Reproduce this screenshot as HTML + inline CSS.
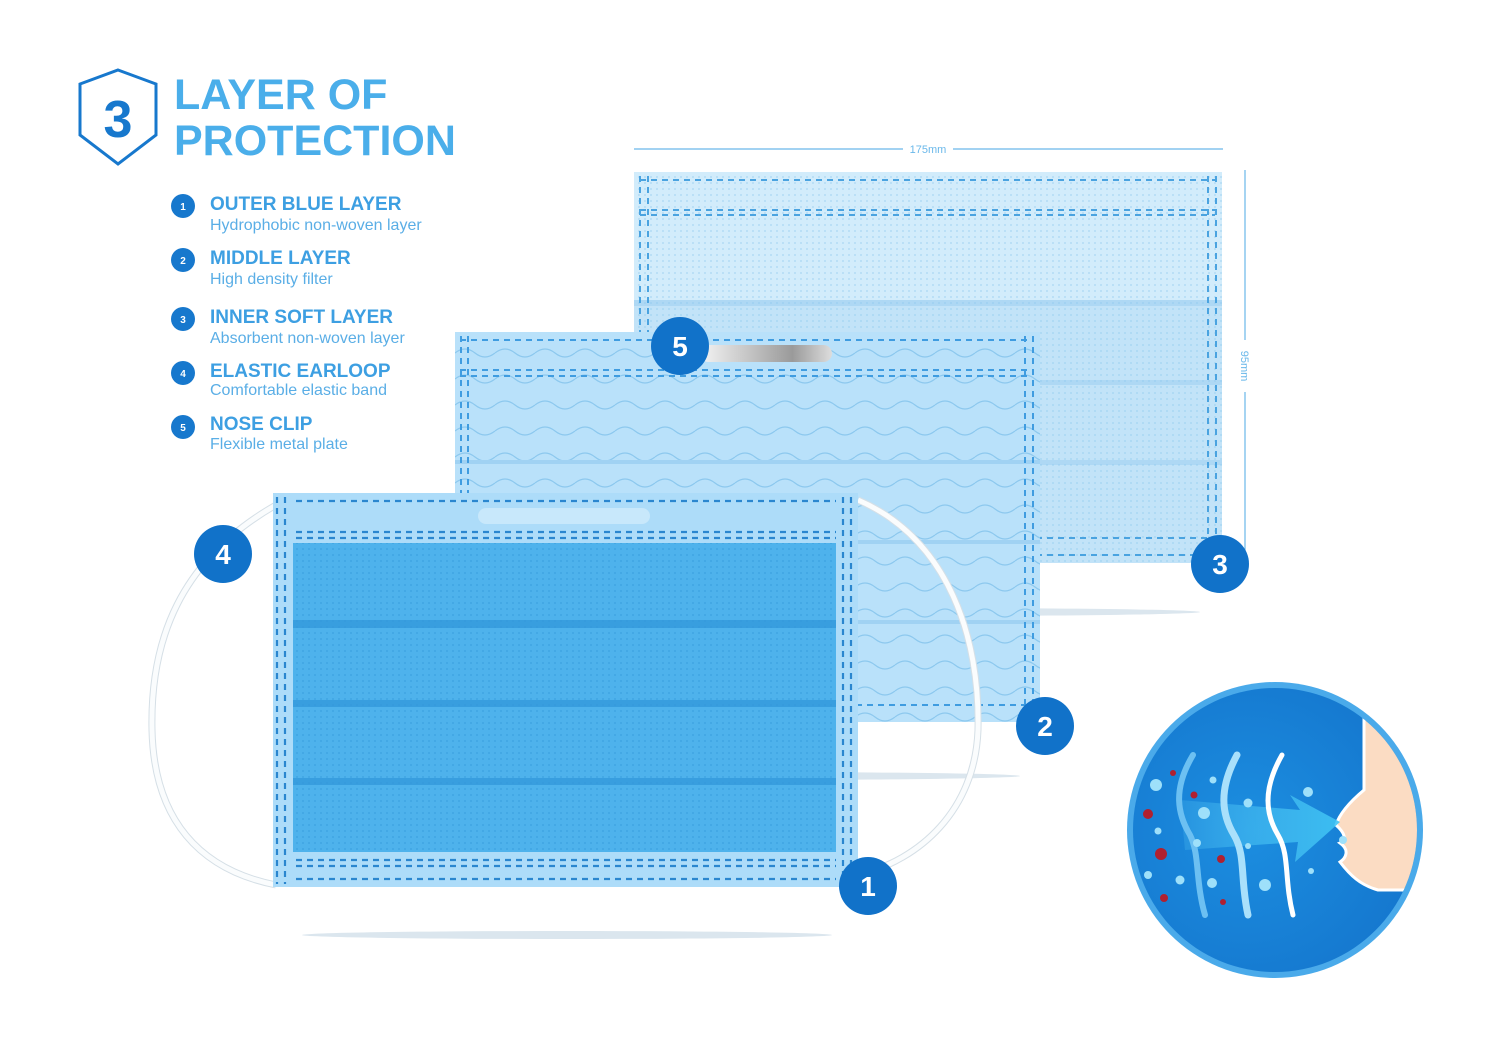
<!DOCTYPE html>
<html><head><meta charset="utf-8"><style>
html,body{margin:0;padding:0;background:#fff}
svg{display:block}
text{font-family:"Liberation Sans",sans-serif}
</style></head><body>
<svg width="1500" height="1052" viewBox="0 0 1500 1052" xmlns="http://www.w3.org/2000/svg">
<defs>
<pattern id="dots" width="6" height="6" patternUnits="userSpaceOnUse"><circle cx="3" cy="3" r="0.9" fill="#8cc8ee" opacity="0.6"/></pattern>
<pattern id="dots2" width="6" height="6" patternUnits="userSpaceOnUse"><circle cx="3" cy="3" r="1" fill="#2f96d8" opacity="0.5"/></pattern>
<pattern id="wave" width="40" height="26" patternUnits="userSpaceOnUse" x="455" y="340"><path d="M0 13 Q10 5 20 13 T40 13" fill="none" stroke="#8cc8ee" stroke-width="1.2"/></pattern>
<radialGradient id="circ" cx="0.4" cy="0.5" r="0.6"><stop offset="0" stop-color="#1c8ee0"/><stop offset="1" stop-color="#1578cf"/></radialGradient>
<linearGradient id="clip" x1="0" x2="1"><stop offset="0" stop-color="#f4f4f4"/><stop offset="0.7" stop-color="#9a9a9a"/><stop offset="1" stop-color="#ddd"/></linearGradient>
<linearGradient id="arr" x1="0" x2="1"><stop offset="0" stop-color="#5fd0f8" stop-opacity="0.2"/><stop offset="1" stop-color="#3fc4f4"/></linearGradient>
<clipPath id="mid"><rect x="455" y="332" width="585" height="390"/></clipPath>
</defs>

<path d="M118 70 L156 84 L156 135 L118 164 L80 135 L80 84 Z" fill="none" stroke="#1778cd" stroke-width="3"/>
<text x="118" y="137" font-size="52" font-weight="bold" fill="#1778cd" text-anchor="middle">3</text>
<text x="174" y="109" font-size="43" font-weight="bold" fill="#4aaeea">LAYER OF</text>
<text x="174" y="155" font-size="43" font-weight="bold" fill="#4aaeea">PROTECTION</text>

<g font-size="10" font-weight="bold" fill="#fff" text-anchor="middle">
<circle cx="183" cy="206" r="12" fill="#1778cd"/><text x="183" y="210">1</text>
<circle cx="183" cy="260" r="12" fill="#1778cd"/><text x="183" y="264">2</text>
<circle cx="183" cy="319" r="12" fill="#1778cd"/><text x="183" y="323">3</text>
<circle cx="183" cy="373" r="12" fill="#1778cd"/><text x="183" y="377">4</text>
<circle cx="183" cy="427" r="12" fill="#1778cd"/><text x="183" y="431">5</text>
</g>
<g font-size="19" font-weight="bold" fill="#3d9fe2">
<text x="210" y="210">OUTER BLUE LAYER</text>
<text x="210" y="264">MIDDLE LAYER</text>
<text x="210" y="323">INNER SOFT LAYER</text>
<text x="210" y="377">ELASTIC EARLOOP</text>
<text x="210" y="430">NOSE CLIP</text>
</g>
<g font-size="16" fill="#5aaee6">
<text x="210" y="230">Hydrophobic non-woven layer</text>
<text x="210" y="284">High density filter</text>
<text x="210" y="343">Absorbent non-woven layer</text>
<text x="210" y="395">Comfortable elastic band</text>
<text x="210" y="449">Flexible metal plate</text>
</g>

<line x1="634" y1="149" x2="903" y2="149" stroke="#6ab8ea" stroke-width="1.2"/>
<line x1="953" y1="149" x2="1223" y2="149" stroke="#6ab8ea" stroke-width="1.2"/>
<text x="928" y="153" font-size="11" fill="#6ab8ea" text-anchor="middle">175mm</text>
<line x1="1245" y1="170" x2="1245" y2="340" stroke="#6ab8ea" stroke-width="1.2"/>
<line x1="1245" y1="392" x2="1245" y2="563" stroke="#6ab8ea" stroke-width="1.2"/>
<text x="1241" y="366" font-size="11" fill="#6ab8ea" text-anchor="middle" transform="rotate(90 1241 366)">95mm</text>

<ellipse cx="920" cy="612" rx="280" ry="4" fill="#dbe6ee"/>
<ellipse cx="740" cy="776" rx="280" ry="4" fill="#dbe6ee"/>
<ellipse cx="567" cy="935" rx="265" ry="4" fill="#dbe6ee"/>

<rect x="634" y="172" width="588" height="391" fill="#d2ecfb"/>
<rect x="634" y="300" width="588" height="263" fill="#c2e3f8"/>
<rect x="634" y="300" width="588" height="6" fill="#aed8f4"/>
<rect x="634" y="380" width="588" height="5" fill="#aed8f4"/>
<rect x="634" y="460" width="588" height="5" fill="#aed8f4"/>
<rect x="634" y="172" width="588" height="391" fill="url(#dots)"/>
<g stroke="#4aa3e0" stroke-width="2" stroke-dasharray="6 5" fill="none">
<line x1="640" y1="180" x2="1215" y2="180"/>
<line x1="640" y1="210" x2="1215" y2="210"/>
<line x1="640" y1="215" x2="1215" y2="215"/>
<line x1="640" y1="538" x2="1215" y2="538"/>
<line x1="640" y1="555" x2="1215" y2="555"/>
<line x1="640" y1="176" x2="640" y2="560"/>
<line x1="648" y1="176" x2="648" y2="560"/>
<line x1="1208" y1="176" x2="1208" y2="560"/>
<line x1="1216" y1="176" x2="1216" y2="560"/>
</g>

<g clip-path="url(#mid)">
<rect x="455" y="332" width="585" height="390" fill="#b9e1fa"/>
<rect x="455" y="332" width="585" height="390" fill="url(#wave)"/>
<rect x="455" y="460" width="585" height="4" fill="#a0d2f3"/>
<rect x="455" y="540" width="585" height="4" fill="#a0d2f3"/>
<rect x="455" y="620" width="585" height="4" fill="#a0d2f3"/>
</g>
<g stroke="#3f9ce0" stroke-width="2" stroke-dasharray="6 5" fill="none">
<line x1="460" y1="340" x2="1032" y2="340"/>
<line x1="460" y1="370" x2="1032" y2="370"/>
<line x1="460" y1="376" x2="1032" y2="376"/>
<line x1="460" y1="705" x2="1032" y2="705"/>
<line x1="461" y1="336" x2="461" y2="718"/>
<line x1="468" y1="336" x2="468" y2="718"/>
<line x1="1025" y1="336" x2="1025" y2="718"/>
<line x1="1033" y1="336" x2="1033" y2="718"/>
</g>
<rect x="700" y="345" width="132" height="17" rx="8.5" fill="url(#clip)"/>

<g fill="none">
<path d="M276 505 C180 560 150 640 152 730 C154 820 200 870 276 885" stroke="#d5dfe6" stroke-width="7"/>
<path d="M276 505 C180 560 150 640 152 730 C154 820 200 870 276 885" stroke="#fafcfd" stroke-width="5"/>
<path d="M858 500 C950 540 980 640 978 730 C975 810 920 860 858 875" stroke="#d5dfe6" stroke-width="7"/>
<path d="M858 500 C950 540 980 640 978 730 C975 810 920 860 858 875" stroke="#fafcfd" stroke-width="5"/>
</g>

<rect x="273" y="493" width="585" height="394" fill="#addcf9"/>
<rect x="478" y="508" width="172" height="16" rx="8" fill="#c8e8fb"/>
<rect x="293" y="543" width="543" height="309" fill="#4eb2ec"/>
<rect x="293" y="620" width="543" height="8" fill="#2f96da" opacity="0.7"/>
<rect x="293" y="700" width="543" height="7" fill="#2f96da" opacity="0.7"/>
<rect x="293" y="778" width="543" height="7" fill="#2f96da" opacity="0.7"/>
<rect x="293" y="543" width="543" height="309" fill="url(#dots2)"/>
<g stroke="#2a86cf" stroke-width="2.2" stroke-dasharray="6 5" fill="none">
<line x1="296" y1="501" x2="836" y2="501"/>
<line x1="296" y1="532" x2="836" y2="532"/>
<line x1="296" y1="538" x2="836" y2="538"/>
<line x1="296" y1="860" x2="836" y2="860"/>
<line x1="296" y1="866" x2="836" y2="866"/>
<line x1="296" y1="879" x2="836" y2="879"/>
<line x1="277" y1="497" x2="277" y2="884"/>
<line x1="285" y1="497" x2="285" y2="884"/>
<line x1="843" y1="497" x2="843" y2="884"/>
<line x1="851" y1="497" x2="851" y2="884"/>
</g>

<g font-size="28" font-weight="bold" fill="#fff" text-anchor="middle">
<circle cx="680" cy="346" r="29" fill="#1172c9"/><text x="680" y="356">5</text>
<circle cx="1220" cy="564" r="29" fill="#1172c9"/><text x="1220" y="574">3</text>
<circle cx="1045" cy="726" r="29" fill="#1172c9"/><text x="1045" y="736">2</text>
<circle cx="223" cy="554" r="29" fill="#1172c9"/><text x="223" y="564">4</text>
<circle cx="868" cy="886" r="29" fill="#1172c9"/><text x="868" y="896">1</text>
</g>

<circle cx="1275" cy="830" r="148" fill="#4aaaea"/>
<circle cx="1275" cy="830" r="142" fill="url(#circ)"/>
<clipPath id="cc"><circle cx="1275" cy="830" r="142"/></clipPath>
<g clip-path="url(#cc)">
<path d="M1364 690 L1364 790 C1352 800 1340 812 1336 825 C1345 833 1347 840 1340 843 C1350 850 1346 858 1340 862 C1350 875 1360 885 1378 890 L1440 890 L1440 690 Z" fill="#fbdcc3" stroke="#fff" stroke-width="3"/>
<path d="M1180 800 L1300 810 L1290 795 L1340 822 L1295 862 L1298 842 L1185 850 Z" fill="url(#arr)" opacity="0.9"/>
<path d="M1193 755 C1172 790 1178 815 1190 835 C1200 855 1195 880 1205 915" fill="none" stroke="#6cc0f2" stroke-width="6" stroke-linecap="round"/>
<path d="M1237 755 C1218 790 1222 815 1234 835 C1246 855 1240 880 1248 915" fill="none" stroke="#a9e0fb" stroke-width="7" stroke-linecap="round"/>
<path d="M1282 755 C1262 790 1266 815 1278 835 C1290 855 1284 880 1293 915" fill="none" stroke="#ffffff" stroke-width="5" stroke-linecap="round"/>
</g>
<g fill="#9ee0fa">
<circle cx="1156" cy="785" r="6"/><circle cx="1213" cy="780" r="3.5"/><circle cx="1158" cy="831" r="3.5"/>
<circle cx="1204" cy="813" r="6"/><circle cx="1197" cy="843" r="4"/><circle cx="1148" cy="875" r="4"/>
<circle cx="1180" cy="880" r="4.5"/><circle cx="1212" cy="883" r="5"/><circle cx="1248" cy="803" r="4.5"/>
<circle cx="1248" cy="846" r="3"/><circle cx="1265" cy="885" r="6"/><circle cx="1308" cy="792" r="5"/>
<circle cx="1343" cy="840" r="4"/><circle cx="1311" cy="871" r="3"/>
</g>
<g fill="#b02030">
<circle cx="1173" cy="773" r="3"/><circle cx="1148" cy="814" r="5"/><circle cx="1194" cy="795" r="3.5"/>
<circle cx="1161" cy="854" r="6"/><circle cx="1221" cy="859" r="4"/><circle cx="1164" cy="898" r="4"/><circle cx="1223" cy="902" r="3"/>
</g>
</svg>
</body></html>
